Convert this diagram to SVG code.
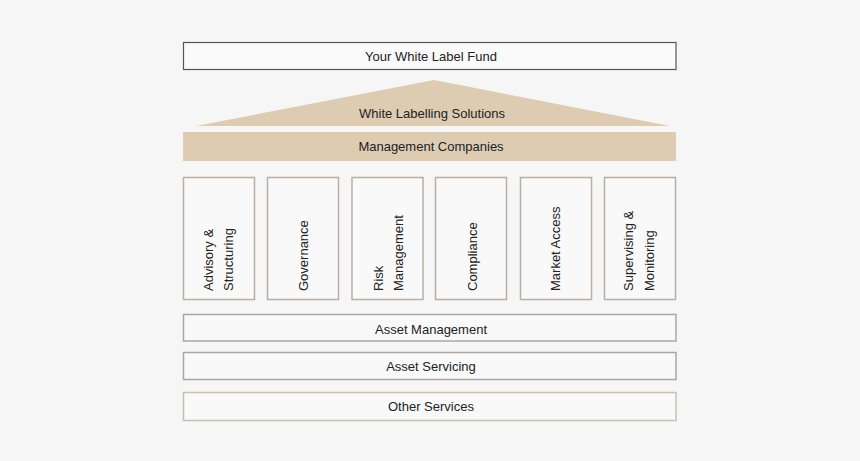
<svg xmlns="http://www.w3.org/2000/svg" width="860" height="461" viewBox="0 0 860 461">
<style>
.box{fill:#f9f9f9;stroke:#aaa6a2;stroke-width:1.5}
.pil{fill:#f9f9f9;stroke:#b9afa5;stroke-width:1.5}
.tan{fill:#ddccb2}
text{font-family:"Liberation Sans",Arial,sans-serif;font-size:13px;fill:#222;text-anchor:middle;dominant-baseline:central}
.v{text-anchor:start}
</style>
<rect width="860" height="461" fill="#f6f6f6"/>
<g id="fund"><rect x="183.5" y="42.5" width="492.5" height="27" fill="#fafafa" stroke="#555" stroke-width="1.2"/><text x="431" y="56">Your White Label Fund</text></g>
<g id="solutions"><polygon class="tan" points="434,80 670,126 196,126"/><text x="432" y="113">White Labelling Solutions</text></g>
<g id="mgmt"><rect class="tan" x="183" y="132" width="493" height="29"/><text x="431" y="146">Management Companies</text></g>
<g id="advisory"><rect class="pil" x="183.5" y="177.5" width="71" height="122"/><text class="v" transform="translate(208,291) rotate(-90)">Advisory &amp;</text><text class="v" transform="translate(228,291) rotate(-90)">Structuring</text></g>
<g id="governance"><rect class="pil" x="267.5" y="177.5" width="71" height="122"/><text class="v" transform="translate(303,291) rotate(-90)">Governance</text></g>
<g id="risk"><rect class="pil" x="352" y="177.5" width="71" height="122"/><text class="v" transform="translate(378,291) rotate(-90)">Risk</text><text class="v" transform="translate(398,291) rotate(-90)">Management</text></g>
<g id="compliance"><rect class="pil" x="435.5" y="177.5" width="71" height="122"/><text class="v" transform="translate(472,291) rotate(-90)">Compliance</text></g>
<g id="market"><rect class="pil" x="520.5" y="177.5" width="71" height="122"/><text class="v" transform="translate(555,291) rotate(-90)">Market Access</text></g>
<g id="supervising"><rect class="pil" x="604.5" y="177.5" width="71" height="122"/><text class="v" transform="translate(628,291) rotate(-90)">Supervising &amp;</text><text class="v" transform="translate(649,291) rotate(-90)">Monitoring</text></g>
<g id="assetmgmt"><rect class="box" x="183.5" y="314.5" width="492.5" height="26.5"/><text x="431" y="329">Asset Management</text></g>
<g id="assetserv"><rect class="box" x="183.5" y="352.5" width="492.5" height="27"/><text x="431" y="366">Asset Servicing</text></g>
<g id="other"><rect class="box" x="183.5" y="392.5" width="492.5" height="28" style="stroke:#cbbfae"/><text x="431" y="406">Other Services</text></g>
<g id="connectors"></g>
</svg>
